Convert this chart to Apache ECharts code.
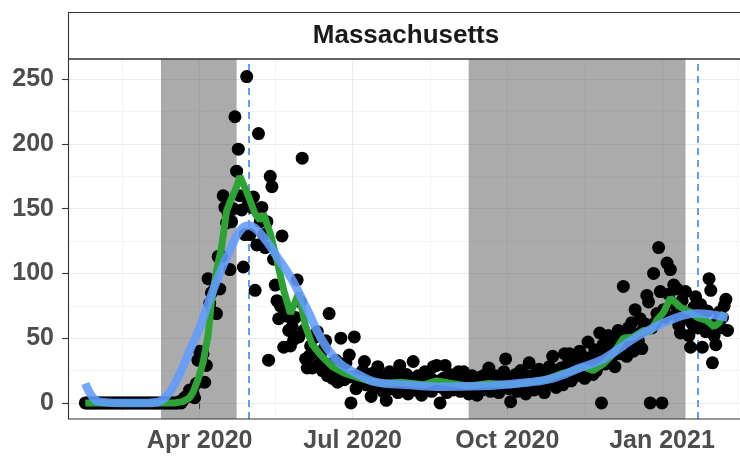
<!DOCTYPE html>
<html>
<head>
<meta charset="utf-8">
<script src="https://cdn.jsdelivr.net/npm/echarts@6/dist/echarts.min.js"></script>
<style>
  html, body { margin: 0; padding: 0; background: #fff; }
  #chart { width: 740px; height: 456px; }
</style>
</head>
<body>
<div id="chart"></div>
<script>
// daily deaths, Massachusetts, first day 2020-01-24
const startDate = '2020-01-24';
const deathsJan20 = [0, 0, 0, 0, 0, 0, 0, 0];
const deathsFeb20 = [0, 0, 0, 0, 0, 0, 0, 0, 0, 0, 0, 0, 0, 0, 0, 0, 0, 0, 0, 0, 0, 0, 0, 0, 0, 0, 0, 0, 0];
const deathsMar20 = [0, 0, 0, 0, 0, 0, 0, 0, 0, 0, 0, 0, 0, 0, 0, 0, 0, 0, 0, 1, 0, 2, 4, 5, 5, 10, 9, 8, 4, 15, 33];
const deathsApr20 = [40, 33, 38, 16, 29, 96, 77, 85, 70, 88, 69, 113, 88, 113, 160, 151, 139, 146, 103, 140,
  150, 221, 179, 196, 160, 149, 105, 130, 252, 154];
const deathsMay20 = [130, 151, 159, 87, 122, 208, 140, 151, 130, 120, 140, 33, 175, 167, 111, 91, 79, 65, 75, 129,
  43, 70, 67, 56, 44, 59, 49, 66, 95, 51, 78];
const deathsJun20 = [189, 56, 34, 27, 36, 44, 27, 39, 51, 55, 30, 38, 25, 42, 48, 21, 69, 30, 19, 24,
  33, 16, 28, 50, 22, 18, 31, 20, 37, 0];
const deathsJul20 = [20, 51, 11, 18, 22, 15, 25, 32, 14, 19, 17, 5, 23, 13, 18, 28, 12, 21, 9, 16,
  2, 19, 24, 11, 17, 14, 20, 8, 29, 15, 18];
const deathsAug20 = [12, 22, 7, 16, 19, 32, 10, 14, 21, 13, 6, 18, 24, 11, 15, 20, 9, 28, 14, 29,
  17, 0, 12, 19, 29, 8, 15, 22, 13, 10, 18];
const deathsSep20 = [16, 24, 9, 14, 24, 11, 19, 7, 15, 21, 12, 17, 6, 13, 20, 10, 16, 22, 14, 27,
  9, 18, 12, 21, 15, 8, 19, 13, 24, 34];
const deathsOct20 = [17, 11, 1, 20, 14, 22, 9, 16, 25, 12, 18, 7, 21, 31, 14, 19, 10, 23, 16, 26,
  13, 20, 8, 24, 17, 28, 15, 36, 21, 12, 25];
const deathsNov20 = [19, 27, 14, 38, 22, 30, 38, 17, 26, 33, 21, 29, 40, 24, 36, 19, 31, 47, 28, 35,
  22, 41, 25, 33, 54, 0, 45, 30, 38, 52];
const deathsDec20 = [41, 35, 49, 28, 44, 56, 38, 47, 90, 51, 36, 58, 45, 62, 40, 72, 53, 48, 65, 42,
  57, 61, 83, 78, 0, 58, 100, 62, 69, 120, 86];
const deathsJan21 = [0, 72, 66, 108, 84, 103, 77, 91, 68, 88, 60, 54, 79, 70, 86, 65, 52, 43, 61, 74,
  82, 58, 67, 76, 43, 62, 55, 71, 96, 87, 31];
const deathsFeb21 = [52, 45, 63, 70, 58, 66, 75, 80, 56];

// green trend line
const trendDates = ['2020-01-24', '2020-03-17', '2020-03-22', '2020-03-26', '2020-03-28', '2020-03-31',
  '2020-04-03', '2020-04-06', '2020-04-08', '2020-04-11', '2020-04-14', '2020-04-17', '2020-04-20',
  '2020-04-23', '2020-04-25', '2020-04-29', '2020-05-04', '2020-05-07', '2020-05-09', '2020-05-13',
  '2020-05-17', '2020-05-21', '2020-05-25', '2020-05-30', '2020-06-03', '2020-06-07', '2020-06-12',
  '2020-06-19', '2020-06-26', '2020-07-03', '2020-07-11', '2020-07-19', '2020-07-30', '2020-08-12',
  '2020-08-20', '2020-08-29', '2020-09-08', '2020-09-20', '2020-10-03', '2020-10-14', '2020-10-24',
  '2020-11-01', '2020-11-09', '2020-11-15', '2020-11-21', '2020-11-27', '2020-12-03', '2020-12-09',
  '2020-12-15', '2020-12-21', '2020-12-25', '2020-12-29', '2021-01-02', '2021-01-06', '2021-01-12',
  '2021-01-18', '2021-01-22', '2021-01-27', '2021-02-01', '2021-02-04', '2021-02-07'];
const trendValues = [0, 0, 1, 4, 8, 18,
  31, 52, 78, 102, 120, 148, 158,
  167, 175, 163, 146, 141, 146, 131,
  110, 87, 69, 85, 59, 45, 37,
  28, 23, 20, 17, 15, 16, 14,
  17, 15, 13, 15, 14, 16, 18,
  22, 25, 28, 25, 30, 38, 50,
  51, 56, 55, 64, 70, 81, 74,
  70, 66, 64, 59, 62, 70];

// blue smooth fit
const smoothDates = ['2020-01-24', '2020-02-01', '2020-02-15', '2020-03-01', '2020-03-08', '2020-03-14',
  '2020-03-20', '2020-03-26', '2020-04-01', '2020-04-07', '2020-04-13', '2020-04-19', '2020-04-25',
  '2020-04-30', '2020-05-07', '2020-05-17', '2020-05-26', '2020-06-04', '2020-06-13', '2020-06-23',
  '2020-07-03', '2020-07-15', '2020-08-02', '2020-08-20', '2020-09-15', '2020-10-14', '2020-10-28',
  '2020-11-13', '2020-11-27', '2020-12-17', '2021-01-06', '2021-01-22', '2021-02-09'];
const smoothValues = [15, 1, 0, 0, 1, 8,
  22, 40, 58, 80, 100, 118, 133,
  137, 131, 113, 95, 72, 48, 31,
  23, 16, 14, 12.6, 13, 16, 19,
  27, 34, 51, 64, 69, 66];

const shadeStarts = ['2020-03-09', '2020-09-08'];
const shadeEnds = ['2020-04-23', '2021-01-15'];
const peakDates = ['2020-04-30', '2021-01-22'];

const xTickDates = ['2020-04-01', '2020-07-01', '2020-10-01', '2021-01-01'];
const xTickLabels = ['Apr 2020', 'Jul 2020', 'Oct 2020', 'Jan 2021'];
const xMinorDates = ['2020-02-15', '2020-05-16', '2020-08-16', '2020-11-16', '2021-02-15'];
const yTicks = [0, 50, 100, 150, 200, 250];
const yMinor = [25, 75, 125, 175, 225];

const DAY = 864e5;
const ts = (s) => {
  const p = s.split('-').map(Number);
  return Date.UTC(p[0], p[1] - 1, p[2]);
};

const deaths = [].concat(deathsJan20, deathsFeb20, deathsMar20, deathsApr20, deathsMay20, deathsJun20,
  deathsJul20, deathsAug20, deathsSep20, deathsOct20, deathsNov20, deathsDec20, deathsJan21, deathsFeb21);
const t0 = ts(startDate);
const points = deaths.map((v, i) => [t0 + i * DAY, v]);
const trend = trendDates.map((d, i) => [ts(d), trendValues[i]]);
const smooth = smoothDates.map((d, i) => [ts(d), smoothValues[i]]);

// axis extent: panel runs from x=68 to the right edge
const apr1 = ts('2020-04-01');
const xMin = apr1 - 78.3 * DAY;
const xMax = apr1 + 321.4 * DAY;
const yMin = -12.4;
const yMax = 265.6;

const xTicks = xTickDates.map(ts);
const FONT = '"Liberation Sans", Arial, Helvetica, sans-serif';

const chart = echarts.init(document.getElementById('chart'));

chart.setOption({
  animation: false,
  backgroundColor: '#fff',
  grid: { left: 68, right: 0, top: 59, bottom: 37, show: false },
  xAxis: [
    {
      type: 'value',
      min: xMin,
      max: xMax,
      axisLine: { show: false },
      axisTick: {
        show: true,
        customValues: xTicks,
        length: 6,
        lineStyle: { color: '#333333', width: 1.1 },
      },
      axisLabel: {
        customValues: xTicks,
        formatter: (v) => {
          let idx = xTicks.findIndex((t) => Math.abs(t - v) < DAY / 2);
          return idx >= 0 ? xTickLabels[idx] : '';
        },
        color: '#4D4D4D',
        fontSize: 25,
        fontWeight: 'bold',
        fontFamily: FONT,
        margin: 10,
        hideOverlap: false,
      },
      splitLine: { show: true, lineStyle: { color: '#EBEBEB', width: 1.1 } },
    },
    {
      type: 'value',
      min: xMin,
      max: xMax,
      position: 'bottom',
      axisLine: { show: false },
      axisTick: { show: false, customValues: xMinorDates.map(ts) },
      axisLabel: { show: false, customValues: xMinorDates.map(ts) },
      splitLine: { show: true, lineStyle: { color: '#EBEBEB', width: 0.55 } },
    },
  ],
  yAxis: [
    {
      type: 'value',
      min: yMin,
      max: yMax,
      axisLine: { show: false },
      axisTick: {
        show: true,
        customValues: yTicks,
        length: 6,
        lineStyle: { color: '#333333', width: 1.1 },
      },
      axisLabel: {
        customValues: yTicks,
        color: '#4D4D4D',
        fontSize: 25,
        fontWeight: 'bold',
        fontFamily: FONT,
        margin: 14,
      },
      splitLine: { show: true, lineStyle: { color: '#EBEBEB', width: 1.1 } },
    },
    {
      type: 'value',
      min: yMin,
      max: yMax,
      axisLine: { show: false },
      axisTick: { show: false, customValues: yMinor },
      axisLabel: { show: false, customValues: yMinor },
      splitLine: { show: true, lineStyle: { color: '#EBEBEB', width: 0.55 } },
    },
  ],
  series: [
    {
      name: 'shade',
      type: 'line',
      data: [],
      z: 1,
      markArea: {
        silent: true,
        itemStyle: { color: 'rgba(87,87,87,0.5)' },
        data: shadeStarts.map((s, i) => [{ xAxis: ts(s) }, { xAxis: ts(shadeEnds[i]) }]),
      },
      markLine: {
        silent: true,
        z: 1,
        symbol: ['none', 'none'],
        label: { show: false },
        lineStyle: { color: '#619CFF', width: 2, type: [7, 5] },
        data: peakDates.map((d) => ({ xAxis: ts(d) })),
      },
    },
    {
      name: 'deaths',
      type: 'scatter',
      data: points,
      symbolSize: 13,
      itemStyle: { color: '#000000', opacity: 1 },
      z: 2,
    },
    {
      name: 'trend',
      type: 'line',
      data: trend,
      showSymbol: false,
      lineStyle: { color: '#2CA334', width: 7 },
      z: 3,
    },
    {
      name: 'smooth',
      type: 'line',
      data: smooth,
      showSymbol: false,
      smooth: 0.4,
      lineStyle: { color: '#619CFF', width: 8.5, opacity: 0.88 },
      z: 4,
    },
  ],
  graphic: [
    {
      type: 'rect',
      shape: { x: 68.5, y: 12.5, width: 690, height: 46.5 },
      style: { fill: '#ffffff', stroke: '#333333', lineWidth: 1.1 },
      z: 100,
    },
    {
      type: 'text',
      x: 406,
      y: 36,
      style: {
        text: 'Massachusetts',
        fill: '#1A1A1A',
        fontSize: 26,
        fontWeight: 'bold',
        fontFamily: FONT,
        align: 'center',
        verticalAlign: 'middle',
      },
      z: 101,
    },
    {
      type: 'rect',
      shape: { x: 68.5, y: 59, width: 690, height: 360 },
      style: { fill: 'none', stroke: '#333333', lineWidth: 1.1 },
      z: 100,
    },
  ],
});
</script>
</body>
</html>
